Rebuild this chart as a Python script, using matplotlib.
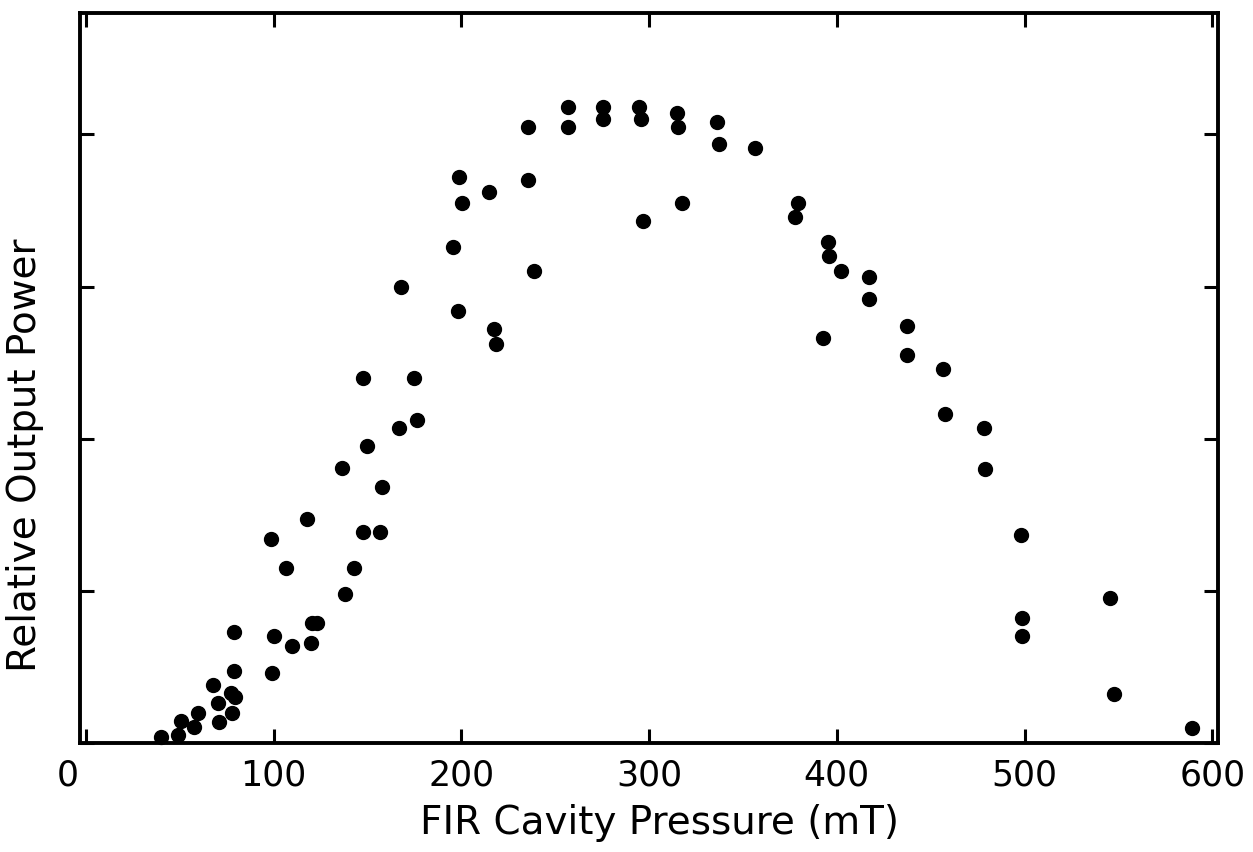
import matplotlib
matplotlib.use('Agg')
import matplotlib.pyplot as plt
import matplotlib.transforms as mtransforms

# FIR cavity pressure (mT) and relative output power
pressure = [40, 49, 50.5, 57.4, 59.6, 67.6, 70.2, 70.7, 77.1, 79.3, 77.7, 78.7, 78.7,
            98.9, 100, 98.4, 106.4, 109.6, 119.7, 120.7, 123.4, 117.6, 138.3, 142.6,
            136.2, 147.9, 156.9, 158, 150, 147.9, 175, 167, 176.6, 168, 195.7, 198.4,
            200.5, 199, 214.9, 217.6, 218.6, 235.6, 235.6, 238.8, 256.9, 256.9, 275.5,
            275.5, 295.7, 294.7, 296.8, 315.4, 314.9, 317.6, 336.2, 337.2, 356.4, 379.3,
            377.7, 392.6, 395.2, 395.7, 402.1, 417, 417, 437.2, 437.2, 456.4, 457.4,
            478.2, 478.7, 497.9, 498.9, 498.9, 545.7, 547.9, 589.4]
power = [0.04, 0.05, 0.145, 0.105, 0.20, 0.38, 0.26, 0.14, 0.33, 0.30, 0.20, 0.47, 0.73,
         0.46, 0.70, 1.34, 1.15, 0.64, 0.66, 0.79, 0.79, 1.47, 0.98, 1.15,
         1.81, 1.39, 1.39, 1.68, 1.95, 2.40, 2.40, 2.07, 2.12, 3.0, 3.26, 2.84,
         3.55, 3.72, 3.62, 2.72, 2.625, 3.70, 4.05, 3.105, 4.05, 4.18, 4.10,
         4.18, 4.10, 4.18, 3.43, 4.05, 4.14, 3.55, 4.08, 3.94, 3.91, 3.55,
         3.46, 2.66, 3.29, 3.20, 3.10, 3.06, 2.92, 2.74, 2.55, 2.46, 2.16,
         2.07, 1.80, 1.37, 0.82, 0.70, 0.95, 0.32, 0.10]

xticks = [0, 100, 200, 300, 400, 500, 600]
yticks = [0, 1, 2, 3, 4]

fig = plt.figure(figsize=(12.53, 8.52), dpi=100)
ax = fig.add_axes([0.064, 0.128, 0.908, 0.857])

ax.plot(pressure, power, 'o', color='black', ms=10, clip_on=False)

ax.set_xlim(-3, 603)
ax.set_ylim(0, 4.8)
ax.set_xticks(xticks)
ax.set_xticklabels([str(t) for t in xticks], fontsize=25)
ax.set_yticks(yticks)
ax.set_yticklabels([])
ax.tick_params(direction='in', length=10, width=2.2, top=True, right=True, pad=11)
for s in ax.spines.values():
    s.set_linewidth(2.8)

# the "0" is written a bit left of its tick in the original
lab0 = ax.get_xticklabels()[0]
lab0.set_transform(lab0.get_transform() +
                   mtransforms.ScaledTranslation(-0.18, 0, fig.dpi_scale_trans))

fig.text(660 / 1253, 1 - 823 / 852, 'FIR Cavity Pressure (mT)', fontsize=28,
         ha='center', va='center')
fig.text(25 / 1253, 1 - 455 / 852, 'Relative Output Power', fontsize=28,
         ha='center', va='center', rotation=90)

fig.savefig('out.png', dpi=100)
